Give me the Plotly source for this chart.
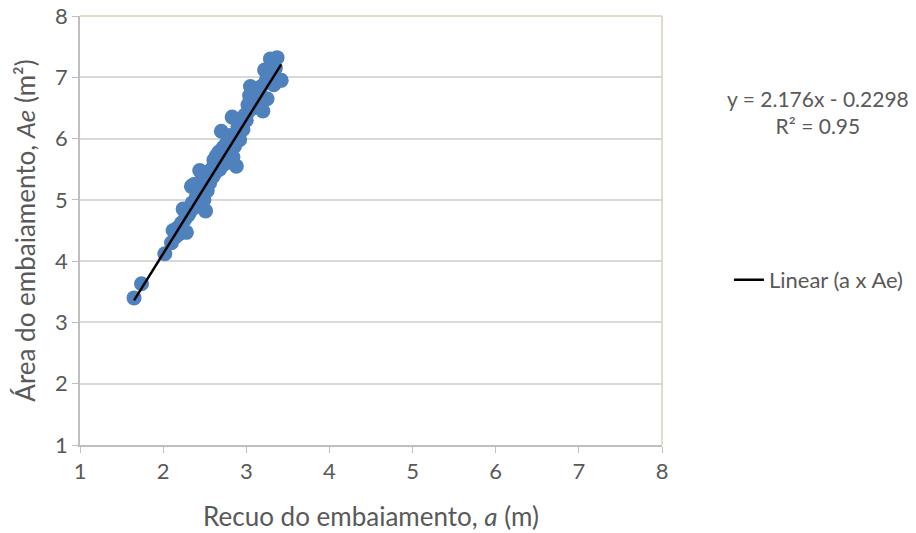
import plotly.graph_objects as go

# Recuo do embaiamento a (m) and área do embaiamento Ae (m²)
recuo_a = [
    1.65, 1.74, 2.02, 2.10, 2.12, 2.15, 2.18, 2.20, 2.22, 2.24,
    2.26, 2.28, 2.30, 2.32, 2.34, 2.35, 2.37, 2.38, 2.40, 2.42,
    2.43, 2.44, 2.46, 2.47, 2.49, 2.50, 2.51, 2.52, 2.53, 2.55,
    2.56, 2.58, 2.60, 2.61, 2.62, 2.63, 2.64, 2.66, 2.67, 2.68,
    2.70, 2.70, 2.72, 2.73, 2.75, 2.76, 2.78, 2.79, 2.80, 2.82,
    2.83, 2.84, 2.85, 2.86, 2.88, 2.89, 2.90, 2.92, 2.94, 2.96,
    2.98, 3.00, 3.02, 3.03, 3.04, 3.05, 3.06, 3.08, 3.10, 3.12,
    3.15, 3.18, 3.20, 3.22, 3.24, 3.25, 3.27, 3.29, 3.30, 3.32,
    3.33, 3.35, 3.37, 3.39, 3.42,
]
area_ae = [
    3.40, 3.63, 4.12, 4.30, 4.50, 4.40, 4.55, 4.45, 4.62, 4.85,
    4.68, 4.47, 4.75, 4.80, 5.22, 4.95, 5.25, 4.88, 5.05, 5.10,
    5.27, 5.48, 5.20, 5.35, 5.00, 5.30, 4.82, 5.42, 5.15, 5.40,
    5.28, 5.50, 5.38, 5.65, 5.55, 5.45, 5.72, 5.60, 5.78, 5.50,
    6.12, 5.68, 5.85, 5.58, 5.90, 5.75, 5.95, 5.62, 6.05, 5.82,
    6.35, 5.70, 6.00, 5.88, 5.55, 6.10, 6.20, 5.98, 6.25, 6.15,
    6.38, 6.30, 6.55, 6.45, 6.70, 6.85, 6.60, 6.50, 6.80, 6.62,
    6.70, 6.85, 6.45, 7.12, 6.95, 6.65, 7.00, 7.30, 7.20, 7.05,
    6.88, 7.15, 7.32, 6.95, 6.95,
]

# Linear trend: Ae = slope * a + intercept
slope = 2.176
intercept = -0.2298
r_squared = 0.95

tick_vals = [1, 2, 3, 4, 5, 6, 7, 8]

x_min, x_max = min(recuo_a), max(recuo_a)
trend_x = [x_min, x_max]
trend_y = [slope * v + intercept for v in trend_x]

font_family = "Lato, 'Open Sans', sans-serif"
text_color = "#595959"

fig = go.Figure()

fig.add_trace(go.Scatter(
    x=recuo_a, y=area_ae, mode="markers",
    name="a x Ae", showlegend=False,
    marker=dict(size=15, color="#4f81bd", line=dict(width=0)),
))

fig.add_trace(go.Scatter(
    x=trend_x, y=trend_y, mode="lines",
    name="Linear (a x Ae)",
    line=dict(color="black", width=2.5),
))

eq_text = f"y = {slope}x - {abs(intercept)}<br>R² = {r_squared}"
fig.add_annotation(
    xref="paper", yref="paper", x=1.268, y=0.777,
    xanchor="center", yanchor="middle",
    text=eq_text, showarrow=False, align="center",
    font=dict(family=font_family, size=21, color=text_color),
)

# plot-area frame on the top and right sides
frame = dict(color="#d8d2b8", width=1.5)
fig.add_shape(type="line", xref="paper", yref="paper", x0=0, x1=1, y0=1, y1=1, line=frame)
fig.add_shape(type="line", xref="paper", yref="paper", x0=1, x1=1, y0=0, y1=1, line=frame)

fig.update_layout(
    width=916, height=533,
    margin=dict(l=80, r=254, t=16, b=88, autoexpand=False),
    plot_bgcolor="white", paper_bgcolor="white",
    font=dict(family=font_family, size=22, color=text_color),
    legend=dict(
        x=1.115, y=0.385, xanchor="left", yanchor="middle",
        font=dict(family=font_family, size=22, color=text_color),
        bgcolor="rgba(0,0,0,0)",
    ),
    xaxis=dict(
        range=[1, 8], tickvals=tick_vals, showgrid=False, zeroline=False,
        showline=True, linecolor="#bfbfbf", linewidth=1.5,
        ticks="outside", ticklen=6, tickcolor="#bfbfbf", automargin=False,
        tickfont=dict(size=22, color=text_color),
        title=dict(text="Recuo do embaiamento, <i>a</i> (m)",
                   font=dict(size=26, color=text_color), standoff=25),
    ),
    yaxis=dict(
        range=[1, 8], tickvals=tick_vals, showgrid=True, gridcolor="#d9d9d9",
        gridwidth=1.5, zeroline=False,
        showline=True, linecolor="#bfbfbf", linewidth=1.5,
        ticks="outside", ticklen=6, tickcolor="#bfbfbf", automargin=False,
        tickfont=dict(size=22, color=text_color),
        title=dict(text="Área do embaiamento, <i>Ae</i> (m²)",
                   font=dict(size=26, color=text_color), standoff=12),
    ),
)

fig.write_html("out.html")
